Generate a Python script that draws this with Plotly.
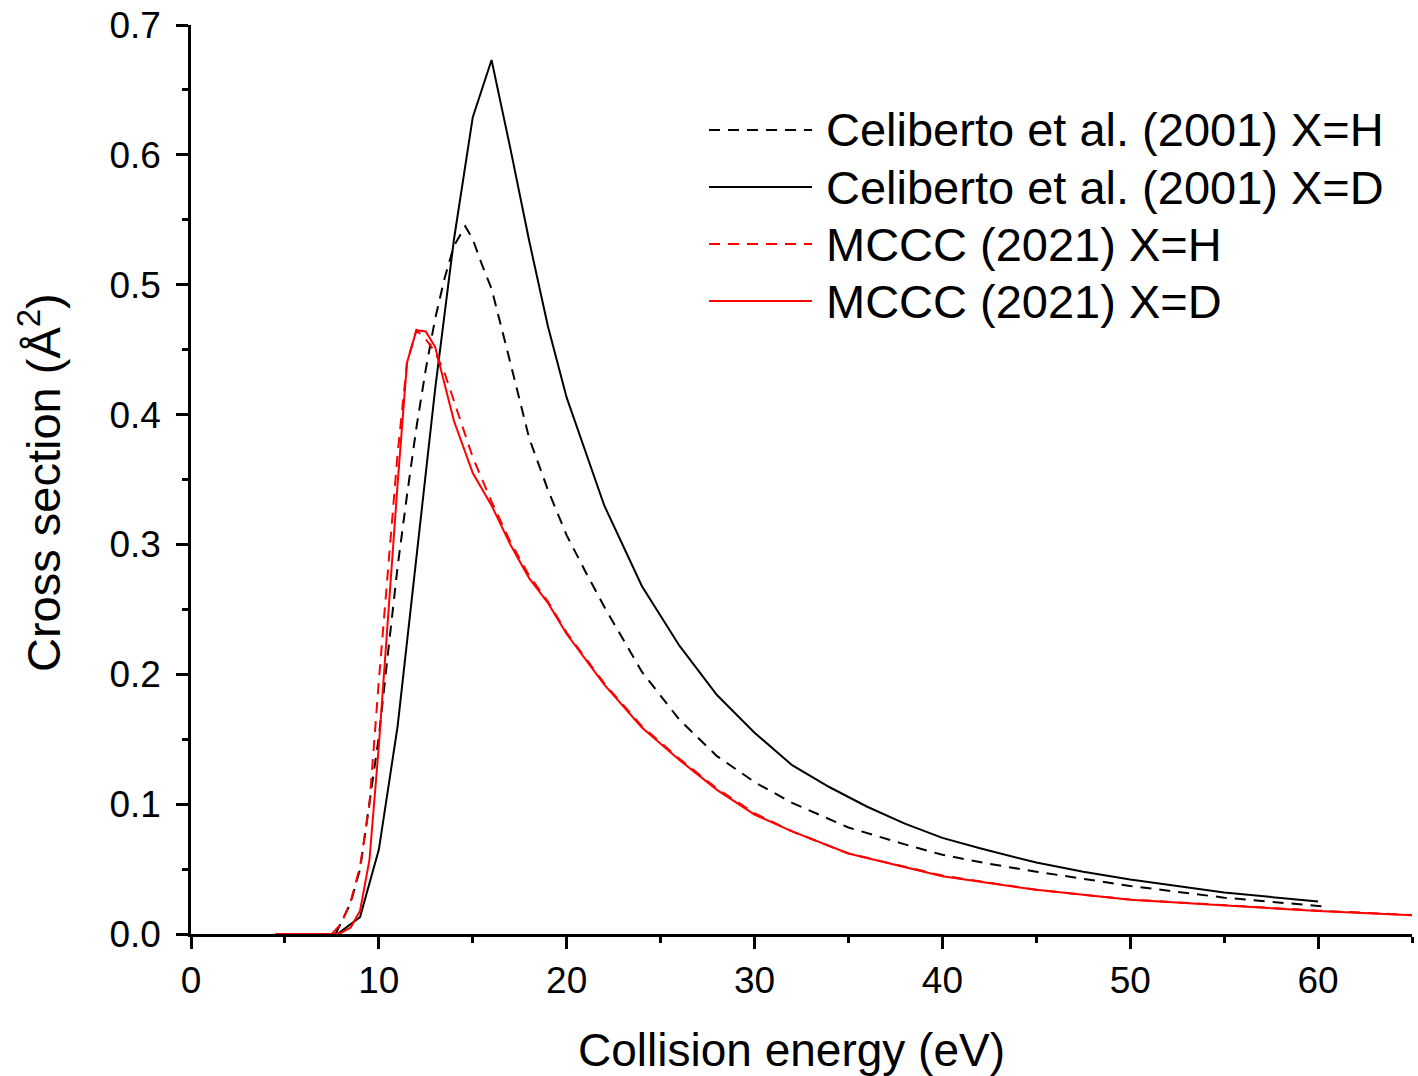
import plotly.graph_objects as go

# Celiberto et al. (2001), X=H
cel_h_energy = [7.7, 8.5, 9, 9.5, 10, 10.5, 11, 11.5, 12, 12.5, 13, 13.5, 14, 14.6, 15, 15.5, 16,
                17, 18, 19, 20, 21, 22, 24, 26, 28, 30, 32, 35, 38, 40, 42.5, 45, 50, 55, 60, 60.5]
cel_h_sigma = [0.0, 0.024, 0.05, 0.10, 0.152, 0.218, 0.283, 0.338, 0.39, 0.435, 0.474, 0.505, 0.53,
               0.545, 0.535, 0.515, 0.497, 0.44, 0.382, 0.342, 0.307, 0.279, 0.252, 0.202, 0.165,
               0.137, 0.117, 0.101, 0.082, 0.069, 0.061, 0.054, 0.048, 0.037, 0.028, 0.0216, 0.021]

# Celiberto et al. (2001), X=D
cel_d_energy = [7.8, 9, 10, 11, 12, 13, 14, 15, 16, 17, 18, 19, 20, 22, 24, 26, 28, 30, 32, 34,
                36, 38, 40, 42, 45, 47.5, 50, 55, 60]
cel_d_sigma = [0.0, 0.013, 0.065, 0.16, 0.29, 0.42, 0.535, 0.629, 0.673, 0.605, 0.534, 0.468,
               0.413, 0.330, 0.268, 0.222, 0.184, 0.155, 0.130, 0.113, 0.098, 0.085, 0.074,
               0.066, 0.055, 0.048, 0.042, 0.032, 0.025]

# MCCC (2021), X=H
mccc_h_energy = [4.5, 7.5, 8, 8.5, 9, 9.5, 10, 10.5, 11, 11.5, 12, 12.5, 13, 13.5, 14, 15, 16,
                 17, 18, 19, 20, 22, 24, 26, 28, 30, 32, 35, 40, 45, 50, 55, 60, 65]
mccc_h_sigma = [0.0, 0.0, 0.008, 0.025, 0.052, 0.10, 0.195, 0.28, 0.37, 0.44, 0.465, 0.458,
                0.448, 0.432, 0.41, 0.367, 0.333, 0.302, 0.276, 0.256, 0.232, 0.193, 0.160,
                0.135, 0.112, 0.093, 0.079, 0.062, 0.045, 0.034, 0.0265, 0.022, 0.018, 0.0146]

# MCCC (2021), X=D
mccc_d_energy = [4.5, 7.7, 8, 8.5, 9, 9.5, 10, 10.5, 11, 11.5, 12, 12.5, 13, 14, 15, 16, 17,
                 18, 19, 20, 22, 24, 26, 28, 30, 32, 35, 40, 45, 50, 55, 60, 65]
mccc_d_sigma = [0.0, 0.0, 0.001, 0.005, 0.018, 0.057, 0.145, 0.25, 0.347, 0.44, 0.465, 0.464,
                0.452, 0.395, 0.355, 0.33, 0.30, 0.274, 0.255, 0.231, 0.192, 0.159, 0.134,
                0.111, 0.092, 0.079, 0.062, 0.0445, 0.034, 0.0263, 0.0218, 0.0177, 0.0145]

series = [
    ("Celiberto et al. (2001) X=H", cel_h_energy, cel_h_sigma, "black", "11px,8px"),
    ("Celiberto et al. (2001) X=D", cel_d_energy, cel_d_sigma, "black", "solid"),
    ("MCCC (2021) X=H", mccc_h_energy, mccc_h_sigma, "#ff0000", "11px,8px"),
    ("MCCC (2021) X=D", mccc_d_energy, mccc_d_sigma, "#ff0000", "solid"),
]

FONT = "Arial, Liberation Sans, sans-serif"
W, H = 1418, 1076
ML, MR, MT, MB = 191, 6, 25, 142
pw, ph = W - ML - MR, H - MT - MB


def px_x(px):
    return (px - ML) / pw


def px_y(py):
    return (H - MB - py) / ph


fig = go.Figure()
for name, xs, ys, color, dash in series:
    fig.add_trace(go.Scatter(x=xs, y=ys, mode="lines", name=name, showlegend=False,
                             line=dict(color=color, width=2, dash=dash)))

# Legend drawn as long line samples next to text labels
legend_rows_px = [130, 187, 244, 301]
for (name, _, _, color, dash), ypx in zip(series, legend_rows_px):
    yp = px_y(ypx)
    fig.add_shape(type="line", xref="paper", yref="paper", x0=px_x(709), x1=px_x(812),
                  y0=yp, y1=yp, line=dict(color=color, width=2, dash=dash))
    fig.add_annotation(xref="paper", yref="paper", x=px_x(824), y=yp, text=name,
                       showarrow=False, xanchor="left", yanchor="middle",
                       font=dict(family=FONT, size=47, color="black"))

# Axis titles
fig.add_annotation(xref="paper", yref="paper", x=px_x(791), y=px_y(1050),
                   text="Collision energy (eV)", showarrow=False,
                   xanchor="center", yanchor="middle",
                   font=dict(family=FONT, size=46, color="black"))
fig.add_annotation(xref="paper", yref="paper", x=px_x(40), y=px_y(483),
                   text="Cross section (Å<sup>2</sup>)", showarrow=False, textangle=-90,
                   xanchor="center", yanchor="middle",
                   font=dict(family=FONT, size=47, color="black"))

axis_common = dict(
    showline=True, linecolor="black", linewidth=2.5, mirror=False, showgrid=False,
    zeroline=False, ticks="outside", ticklen=12, tickwidth=2.5, tickcolor="black",
    tickfont=dict(family=FONT, size=37, color="black"),
)

fig.update_xaxes(range=[0, 65], dtick=10, tick0=0,
                 minor=dict(dtick=5, ticks="outside", ticklen=6, tickwidth=2.5, tickcolor="black"),
                 **axis_common)
fig.update_yaxes(range=[0, 0.7], dtick=0.1, tick0=0, tickformat=".1f",
                 minor=dict(dtick=0.05, ticks="outside", ticklen=6, tickwidth=2.5, tickcolor="black"),
                 ticklabelstandoff=8,
                 **axis_common)

fig.update_layout(width=W, height=H, margin=dict(l=ML, r=MR, t=MT, b=MB, autoexpand=False),
                  plot_bgcolor="white", paper_bgcolor="white", showlegend=False)

fig.write_html("out.html")
